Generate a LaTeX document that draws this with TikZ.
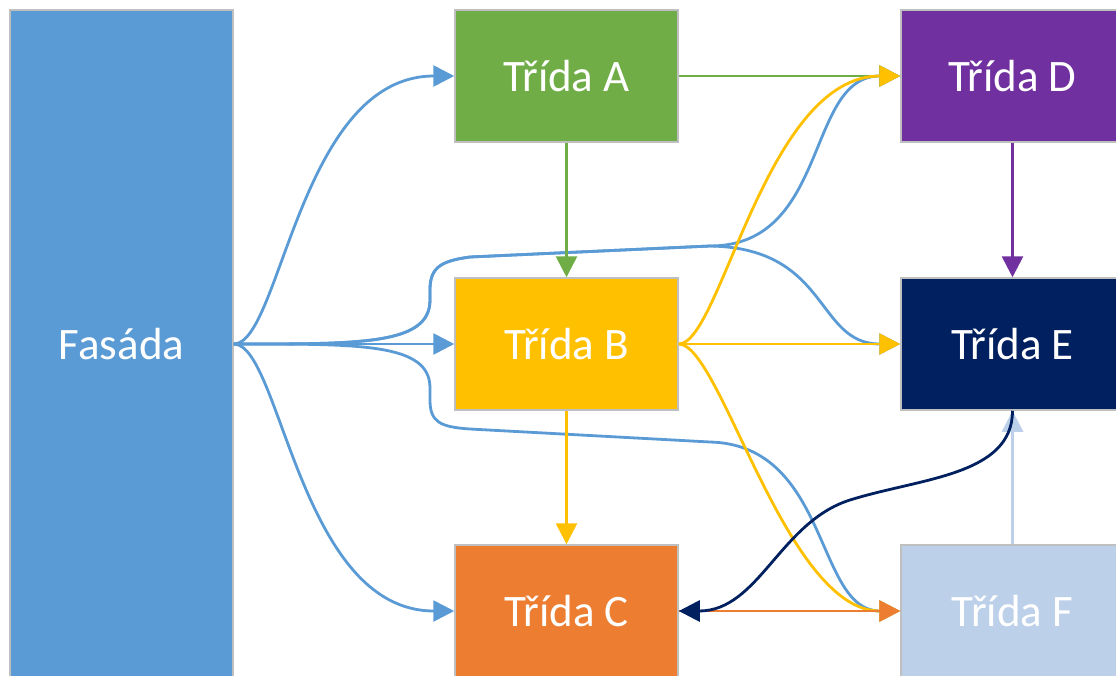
\documentclass[tikz,border=0pt]{standalone}
\usepackage{fontspec}
\setmainfont{Carlito}
\usetikzlibrary{arrows.meta}

\definecolor{fasblue}{HTML}{5B9BD5}
\definecolor{clsgreen}{HTML}{70AD47}
\definecolor{clsyellow}{HTML}{FFC000}
\definecolor{clsorange}{HTML}{ED7D31}
\definecolor{clspurple}{HTML}{7030A0}
\definecolor{clsnavy}{HTML}{002060}
\definecolor{clslight}{RGB}{189,208,233}
\definecolor{edgegray}{HTML}{BFBFBF}

\begin{document}
\begin{tikzpicture}[x=1pt,y=-1pt,
  cls/.style={draw=edgegray, line width=1.5pt, minimum width=223pt,
    minimum height=132pt, inner sep=0pt, text=white,
    font=\fontsize{45}{52}\selectfont},
  conn/.style={line width=2.8pt, -{Triangle[length=21pt,width=21pt]}}]
\useasboundingbox (0,0) rectangle (1116,675);
\clip (0,0) rectangle (1116,675);

% class boxes
\node[cls, fill=fasblue, minimum height=668pt] (fas) at (121.5,344) {Fasáda};
\node[cls, fill=clsgreen]  (a) at (566.5,76)  {Třída A};
\node[cls, fill=clsyellow] (b) at (566.5,344) {Třída B};
\node[cls, fill=clsorange] (c) at (566.5,611) {Třída C};
\node[cls, fill=clspurple] (d) at (1012.5,76)  {Třída D};
\node[cls, fill=clsnavy]   (e) at (1012.5,344) {Třída E};
\node[cls, fill=clslight]  (f) at (1012.5,611) {Třída F};

% waypoints of the routed facade connectors
\coordinate (upA) at (430,300);
\coordinate (upB) at (430,290);
\coordinate (upC) at (470,257);
\coordinate (upT) at (710,246);
\coordinate (loA) at (430,388);
\coordinate (loB) at (430,400);
\coordinate (loC) at (470,429);
\coordinate (loT) at (710,442);

% facade connectors
\begin{scope}[fasblue]
\draw[conn] (fas.east) .. controls +(47,0) and +(-155,0) .. (a.west);
\draw[conn] (fas.east) -- (b.west);
\draw[conn] (fas.east) .. controls +(47,0) and +(-155,0) .. (c.west);
\draw[conn] (fas.east) .. controls +(127,0) and +(0,45) .. (upA) -- (upB)
  .. controls +(0,-22) and +(-30,4) .. (upC) -- (upT)
  .. controls +(120,0) and +(-95,0) .. (d.west);
\draw[conn] (fas.east) .. controls +(127,0) and +(0,45) .. (upA) -- (upB)
  .. controls +(0,-22) and +(-30,4) .. (upC) -- (upT)
  .. controls +(120,2) and +(-85,0) .. (e.west);
\draw[conn] (fas.east) .. controls +(127,0) and +(0,-45) .. (loA) -- (loB)
  .. controls +(0,22) and +(-30,-2) .. (loC) -- (loT)
  .. controls +(120,3) and +(-85,0) .. (f.west);
\end{scope}

% class A
\draw[conn, clsgreen] (a.south) -- (b.north);
\draw[conn, clsgreen] (a.east) -- (d.west);

% class B
\draw[conn, clsyellow] (b.south) -- (c.north);
\draw[conn, clsyellow] (b.east) -- (e.west);
\draw[conn, clsyellow] (b.east) .. controls +(42,0) and +(-135,0) .. (d.west);
\draw[conn, clsyellow] (b.east) .. controls +(42,0) and +(-115,0) .. (f.west);

% class D
\draw[conn, clspurple] (d.south) -- (e.north);

% class F
\draw[conn, clslight] (f.north) -- (e.south);

% class C
\draw[conn, clsorange] (c.east) -- (f.west);

% class E
\coordinate (nvMid) at (850,500);
\draw[conn, clsnavy] (e.south) .. controls +(0,65) and +(70,-22) .. (nvMid)
  .. controls +(-70,22) and +(80,0) .. (c.east);
\end{tikzpicture}
\end{document}
